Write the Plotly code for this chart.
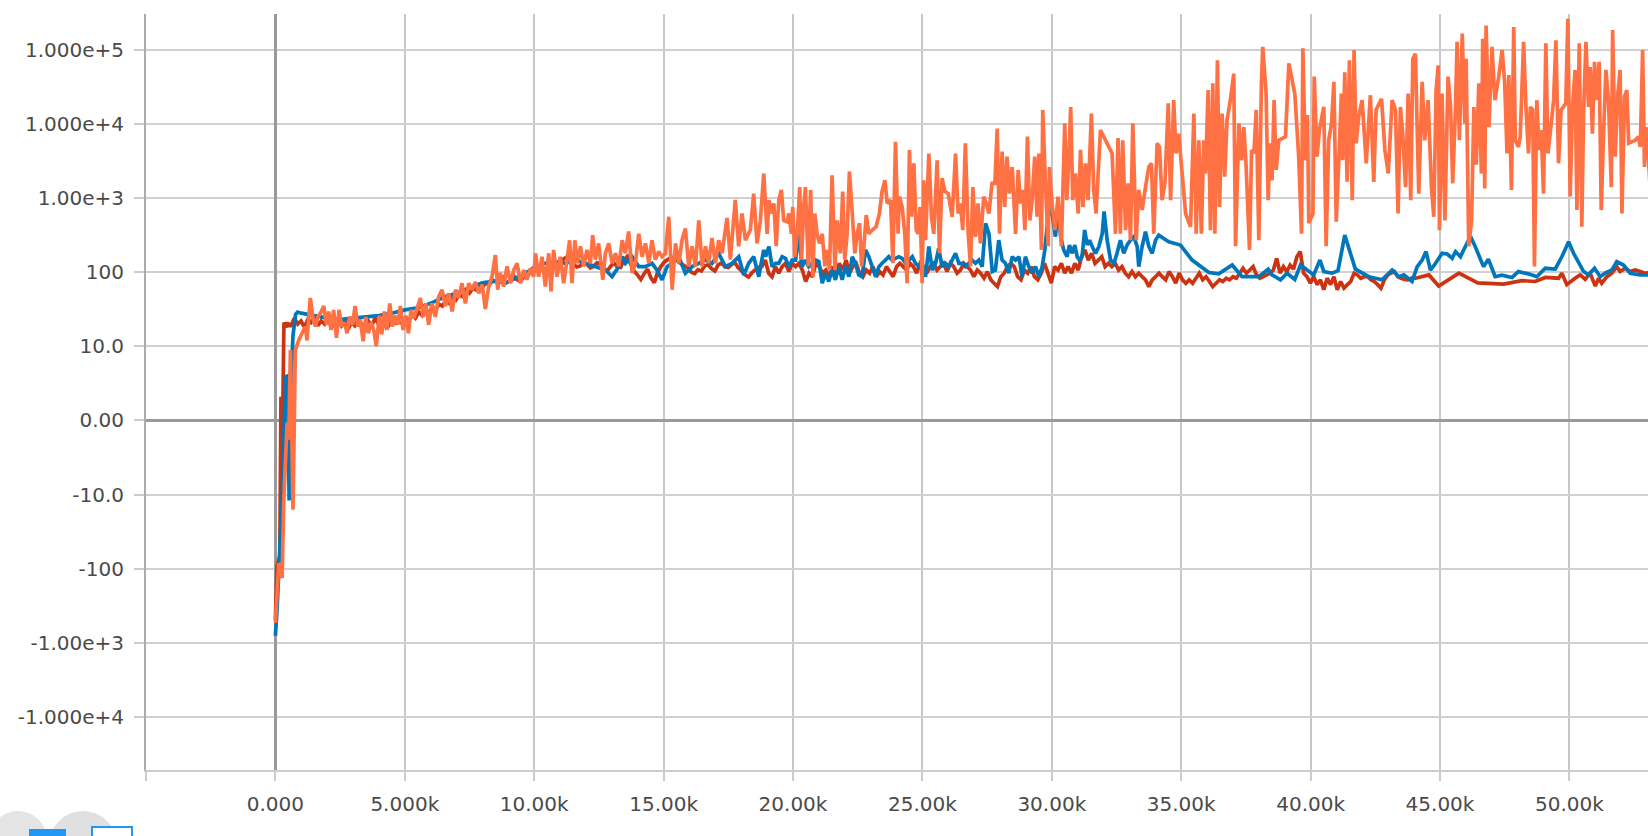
import numpy as np
import plotly.graph_objects as go

# ---------------- data (step, value) ----------------
orange_run = [
    (0, -540), (130, -84), (260, -134), (320, -13), (450, -0.4), (515, -2.6), (580, 9.5), (680, -16), (770, 9.5),
    (900, 12), (1030, 15), (1160, 18.5), (1220, 12), (1350, 45), (1460, 23), (1550, 18.5), (1640, 25), (1740, 28),
    (1870, 35), (1970, 19.5), (2060, 29.5), (2150, 16.6), (2250, 31), (2360, 13), (2460, 31), (2560, 18.5), (2670, 21),
    (2770, 15), (2870, 25), (2980, 19.5), (3080, 35), (3180, 18.5), (3280, 23), (3390, 11.7), (3490, 25), (3590, 15),
    (3700, 21), (3800, 16.6), (3900, 10), (4010, 26), (4110, 14.5), (4210, 29.5), (4310, 16.6), (4420, 38), (4520, 18.5),
    (4620, 26), (4730, 19.5), (4830, 35), (4930, 16.6), (5040, 26), (5140, 15), (5240, 31), (5350, 24), (5470, 32),
    (5600, 45), (5710, 25), (5810, 38), (5920, 19.5), (6050, 38), (6180, 25), (6310, 47), (6440, 58), (6570, 35),
    (6700, 52), (6830, 29.5), (6960, 58), (7080, 45), (7210, 71), (7340, 38), (7470, 71), (7600, 58), (7730, 74),
    (7860, 52), (7990, 68), (8110, 32), (8240, 64), (8370, 87), (8500, 170), (8590, 58), (8690, 98), (8820, 64),
    (8950, 120), (9080, 71), (9210, 107), (9340, 132), (9470, 71), (9600, 107), (9720, 79), (9850, 112), (9980, 87),
    (10050, 180), (10170, 87), (10300, 162), (10430, 64), (10560, 180), (10650, 55), (10750, 200), (10880, 87),
    (11010, 162), (11140, 71), (11270, 148), (11370, 270), (11460, 71), (11570, 270), (11660, 132), (11790, 224),
    (11910, 120), (12040, 200), (12170, 132), (12260, 316), (12360, 148), (12490, 245), (12650, 79), (12750, 180),
    (12880, 245), (13010, 132), (13140, 180), (13270, 120), (13400, 270), (13520, 180), (13650, 355), (13780, 98),
    (13910, 132), (14040, 330), (14170, 162), (14300, 245), (14430, 132), (14550, 270), (14680, 148), (14810, 190),
    (14940, 162), (15070, 180), (15200, 560), (15330, 58), (15460, 245), (15590, 132), (15710, 270), (15840, 390),
    (15970, 120), (16100, 224), (16230, 120), (16360, 500), (16490, 120), (16620, 224), (16740, 132), (16870, 290),
    (17000, 132), (17130, 270), (17260, 180), (17450, 540), (17580, 148), (17770, 950), (17900, 224), (18030, 620),
    (18160, 270), (18350, 370), (18480, 1150), (18610, 245), (18740, 500), (18870, 2150),
    (19000, 330), (19070, 940), (19190, 620), (19260, 850), (19350, 224), (19450, 940), (19550, 1290), (19640, 500),
    (19770, 480), (19840, 620), (19940, 330), (19990, 760), (20070, 162), (20160, 330), (20260, 1410), (20330, 148),
    (20420, 810), (20480, 1410), (20590, 120), (20680, 1290), (20770, 87), (20840, 620), (20930, 330), (21020, 245),
    (21130, 330), (21230, 120), (21310, 200), (21410, 107), (21510, 2040), (21620, 107), (21710, 500), (21830, 180),
    (21920, 1230), (22000, 148), (22090, 330), (22180, 2290), (22290, 620), (22390, 180), (22480, 330), (22570, 460),
    (22650, 120), (22740, 224), (22830, 590), (22930, 330), (23060, 370), (23210, 410), (23340, 620), (23440, 1230),
    (23550, 1740), (23640, 850), (23770, 940), (23860, 132), (23960, 5750), (24060, 330), (24110, 1050), (24220, 760),
    (24320, 330), (24410, 71), (24500, 4470), (24580, 560), (24670, 2950), (24760, 370), (24840, 330), (24910, 760),
    (24990, 71), (25050, 1740), (25120, 270), (25250, 4000), (25350, 560), (25440, 330), (25570, 3240), (25660, 180),
    (25760, 1860), (25870, 1230), (26000, 1150), (26150, 560), (26280, 4000), (26380, 620), (26470, 850), (26560, 370),
    (26660, 5500), (26770, 330), (26860, 120), (26950, 1410), (27050, 300), (27150, 850), (27240, 245), (27370, 1050),
    (27460, 850), (27570, 620), (27690, 1580), (27800, 1580), (27890, 8700), (27980, 330), (28080, 4260), (28180, 760),
    (28270, 3630), (28360, 1150), (28470, 2630),
    (28600, 330), (28700, 2400), (28790, 850), (28880, 1290), (28960, 370), (29060, 6760), (29150, 500), (29240, 940),
    (29340, 3630), (29430, 560), (29500, 4000), (29600, 200), (29650, 15500), (29760, 1410), (29860, 224), (29910, 2630),
    (30010, 850), (30120, 370), (30240, 1050), (30370, 224), (30500, 10200), (30580, 940), (30660, 3630), (30730, 17000),
    (30810, 940), (30910, 2150), (31020, 620), (31110, 4470), (31200, 760), (31300, 2950), (31400, 940), (31530, 13800),
    (31620, 1290), (31710, 620), (31880, 8300), (32330, 4000), (32460, 330), (32560, 6460), (32650, 330), (32740, 6030),
    (32850, 370), (32950, 1580), (33040, 270), (33130, 10200), (33260, 270), (33360, 1290), (33490, 690), (33620, 1410),
    (33750, 2630), (33850, 2950), (33940, 330), (34070, 5500), (34160, 4900), (34260, 940), (34370, 1580), (34500, 19000),
    (34590, 940), (34710, 21000), (34800, 4000), (34910, 7400), (34970, 4000), (35170, 620), (35360, 410), (35490, 13800),
    (35580, 330), (35680, 6030), (35780, 330), (35870, 6030), (35940, 2150), (36040, 28800), (36130, 370), (36220, 35500),
    (36300, 330), (36400, 72400), (36480, 760), (36580, 13800), (36680, 1950), (36770, 11200), (36900, 21000),
    (37030, 47900), (37100, 224), (37230, 10200), (37330, 3240), (37420, 9100), (37510, 2630), (37640, 200), (37720, 4470),
    (37810, 4000), (37900, 15500), (38000, 270), (38100, 35500), (38150, 110000),
    (38280, 25700), (38360, 940), (38440, 5500), (38510, 1740), (38590, 21000), (38670, 2400), (38770, 6030), (39030, 6760),
    (39160, 66000), (39390, 25700), (39540, 3630), (39650, 330), (39700, 105000), (39800, 3240), (39880, 13200), (39930, 460),
    (40090, 620), (40140, 43700), (40250, 3630), (40340, 8300), (40510, 17000), (40600, 224), (40700, 6030), (40810, 10200),
    (40900, 37200), (40990, 480), (41090, 3240), (41190, 25700), (41240, 3240), (41320, 50100), (41410, 1660), (41500, 72400),
    (41610, 940), (41680, 100000), (41760, 5500), (41860, 12600), (41990, 21000), (42150, 2950), (42310, 24500), (42440, 1660),
    (42530, 15500), (42740, 21900), (42870, 4470), (43000, 2150), (43150, 21000), (43280, 15500), (43380, 620), (43470, 17000),
    (43560, 7400), (43670, 1410), (43770, 25700), (43870, 940), (43950, 76000), (44050, 89000), (44180, 1150), (44310, 37200),
    (44410, 6030), (44540, 21000), (44670, 1410), (44760, 560), (44850, 28800), (44930, 61700), (44980, 370), (45080, 25700),
    (45190, 500), (45310, 43700), (45410, 17000), (45490, 1580), (45600, 17000), (45660, 129000), (45750, 6030), (45860, 166000),
    (45960, 10200), (46010, 76000), (46110, 224), (46220, 500), (46310, 17000), (46400, 2820), (46500, 35500), (46600, 2150),
    (46650, 141000), (46730, 1350), (46780, 214000), (46890, 9100), (47010, 110000), (47120, 21000), (47270, 43700),
    (47400, 100000), (47500, 35500), (47590, 4000), (47660, 45700), (47760, 1290), (47850, 204000),
    (47910, 6030), (48030, 4900), (48100, 6760), (48230, 129000), (48320, 17000), (48420, 4000), (48490, 17000), (48580, 15500),
    (48650, 120), (48740, 21000), (48830, 4470), (48910, 8300), (49000, 1150), (49090, 123000), (49170, 4000), (49300, 10200),
    (49390, 21000), (49480, 135000), (49580, 2950), (49680, 15500), (49770, 17000), (49860, 19000), (49940, 263000),
    (50030, 1050), (50120, 17000), (50220, 53700), (50290, 690), (50380, 123000), (50480, 410), (50550, 15500), (50640, 129000),
    (50740, 17000), (50800, 58900), (50890, 7400), (50970, 69200), (51060, 21000), (51150, 69200), (51230, 690), (51320, 7400),
    (51410, 53700), (51510, 21000), (51620, 1410), (51670, 186000), (51770, 3630), (51870, 25700), (51960, 53700), (52030, 620),
    (52130, 23400), (52220, 28800), (52290, 5500), (52540, 6030), (52670, 6760), (52740, 4900), (52830, 100000), (52900, 2630),
    (52960, 9100), (53060, 3240), (53150, 900),
]

blue_run = [
    (0, -810), (64, -355), (190, -40), (258, -12), (386, 5.9), (470, 6), (530, -12), (600, 5), (680, 14), (780, 27),
    (860, 29), (1000, 28), (1500, 26), (2000, 24), (2500, 23), (3000, 24), (3500, 25), (4000, 26), (4500, 28), (5000, 31),
    (5500, 33), (6000, 38), (6500, 46), (7000, 52), (7500, 62), (8000, 72), (8500, 76),
    (8887, 71), (9273, 83), (9660, 97), (10046, 119), (10433, 132), (10819, 139), (11205, 132), (11592, 146), (11978, 132),
    (12365, 119), (12751, 107), (13009, 87), (13266, 119), (13395, 162), (13524, 132), (13781, 162), (14039, 119),
    (14297, 119), (14554, 132), (14747, 107), (14941, 79), (15134, 119), (15327, 132), (15585, 162), (15842, 97),
    (16100, 119), (16357, 132), (16615, 146), (16873, 132), (17130, 180), (17388, 119), (17645, 132), (17903, 162),
    (18096, 92), (18289, 132), (18483, 162), (18676, 87), (18869, 200),
    (18940, 162), (19070, 222), (19190, 119), (19320, 132), (19450, 132), (19580, 162), (19710, 154), (19840, 119),
    (19970, 146), (20100, 146), (20220, 333), (20350, 119), (20480, 146), (20610, 119), (20740, 132), (20870, 146),
    (21000, 139), (21130, 71), (21250, 97), (21380, 75), (21510, 107), (21640, 79), (21770, 119), (21900, 79), (22030, 119),
    (22160, 87), (22290, 162), (22410, 132), (22540, 92), (22670, 87), (22800, 200), (22930, 162), (23060, 119), (23190, 87),
    (23320, 119), (23440, 132), (23570, 146), (23700, 162), (23830, 146), (23960, 154), (24090, 162), (24220, 154),
    (24350, 132), (24480, 146), (24610, 162), (24730, 132), (24860, 119), (24990, 132), (25120, 87), (25250, 222),
    (25380, 107), (25510, 132), (25630, 210), (25760, 119), (25890, 132), (26020, 119), (26150, 146), (26280, 180),
    (26410, 132), (26540, 132), (26660, 119), (26790, 132), (26920, 146), (27050, 132), (27180, 146), (27310, 119),
    (27440, 457), (27570, 333), (27700, 102), (27820, 107), (27950, 271), (28080, 146), (28210, 132),
    (28340, 97), (28470, 162), (28600, 146), (28730, 162), (28850, 87), (28980, 162), (29110, 119), (29240, 97), (29370, 119),
    (29500, 87), (29630, 119), (29730, 200), (29820, 410), (29910, 760), (30010, 620), (30140, 302), (30250, 760),
    (30340, 302), (30460, 200), (30590, 162), (30680, 233), (30790, 180), (30890, 233), (30980, 162), (31070, 146),
    (31170, 162), (31270, 372), (31370, 233), (31460, 271), (31560, 222), (31690, 180), (31820, 222), (31950, 333),
    (32020, 660), (32140, 271), (32270, 146), (32400, 132), (32520, 180), (32650, 271), (32780, 180), (32910, 233),
    (33040, 271), (33170, 302), (33300, 222), (33360, 119), (33490, 222), (33620, 352), (33750, 222), (33880, 180),
    (34010, 271), (34130, 317), (34520, 258), (34970, 233), (35420, 146), (36070, 99), (36450, 95), (36970, 125),
    (37350, 87), (38000, 87),
    (38360, 110), (38510, 92), (38840, 79), (39090, 97), (39390, 80), (39610, 125), (40120, 92), (40360, 146), (40510, 102),
    (40830, 97), (41060, 105), (41320, 317), (41730, 110), (42250, 87), (42760, 79), (43150, 107), (43410, 87), (43600, 92),
    (43920, 75), (44120, 119), (44310, 146), (44460, 190), (44630, 107), (44830, 132), (45080, 180), (45280, 176),
    (45470, 154), (45600, 190), (45790, 162), (45980, 222), (46180, 302),
    (46360, 222), (46680, 119), (46870, 150), (47130, 87), (47390, 91), (47780, 85), (48030, 102), (48420, 95), (48740, 87),
    (49070, 113), (49450, 110), (49710, 162), (49970, 258), (50160, 180), (50550, 102), (50740, 92), (50970, 113),
    (51190, 87), (51380, 97), (51640, 107), (51830, 139), (52090, 125), (52350, 97), (52740, 92), (53060, 92), (53200, 90),
]

red_start = [(0, -490), (60, -93), (170, -68), (215, 3.2), (260, -5), (330, 21), (400, 18), (470, 21), (530, 19)]

# red: logged every 130 steps from step 600 to 43890
red_dense_steps = list(range(600, 44020, 130))
red_dense_values = [
    19, 24, 20, 22, 18, 23, 21, 25, 19, 22, 20, 24, 18, 21, 23, 19, 22, 17, 21, 19,
    23, 20, 18, 22, 19, 24, 20, 17, 22, 19, 23, 21, 25, 20, 24, 22, 27, 24, 29, 26,
    31, 28, 34, 31, 37, 35, 41, 38, 45, 42, 50, 47, 55, 52, 60, 58, 66, 63, 72, 68,
    78, 74, 85, 80,
    95, 88, 92, 80, 76, 84, 88, 96, 104, 110, 121, 104, 112, 126, 134, 118, 128, 150, 160, 138,
    128, 118, 122, 136, 128, 114, 120, 134, 128, 112, 104, 120, 134, 118, 116, 148, 164, 128, 104, 92,
    80, 96, 110, 84, 72, 100, 120, 138, 148, 158, 160, 140, 130, 122, 114, 100, 96, 108, 104, 122,
    126, 112, 104, 126, 134, 118, 116, 128, 134, 114, 104, 92, 86, 98, 108, 116, 120,
    146, 97, 87, 119, 97, 119, 132, 102, 132, 119, 132, 107, 75, 97, 87, 132, 119, 97, 107, 87,
    119, 97, 132, 107, 146, 97, 119, 132, 97, 87, 107, 97, 119, 87, 102, 92, 119, 102, 87, 119,
    132, 119, 107, 132, 119, 97, 132, 119, 97, 119, 132, 107, 119, 132, 102, 132, 119, 97, 107, 132,
    119, 107, 87, 107, 97, 83, 102, 79, 71, 64, 87, 97, 119, 132, 119,
    87, 79, 107, 97, 119, 87, 79, 97, 132, 97, 71, 119, 107, 132, 97, 119, 97, 132, 107, 162,
    200, 146, 180, 132, 146, 162, 119, 132, 119, 132, 107, 119, 97, 87, 102, 87, 97, 87, 79, 64,
    79, 87, 97, 87, 79, 102, 87, 71, 97, 79, 71, 79, 71, 83, 97, 79, 87, 75, 64, 71,
    79, 75, 83, 79, 87, 83, 97, 113, 97, 107, 119, 92, 83, 87, 92,
    97, 107, 154, 97, 119, 102, 125, 110, 162, 190, 97, 87, 71, 87, 68, 79, 58, 83, 68, 87,
    58, 75, 61, 68, 75, 97, 92, 83, 87, 87, 79, 75, 68, 61, 79, 92, 97, 102, 87, 83,
    80, 79, 83,
]
red_tail = [
    (44050, 83), (44570, 92), (44950, 65), (45730, 97), (46460, 72), (47460, 69), (48160, 77), (48680, 75), (49070, 85),
    (49580, 83), (49710, 97), (49900, 68), (50220, 83), (50420, 92), (50610, 80), (50800, 97), (51000, 65), (51130, 83),
    (51250, 71), (51450, 87), (51640, 97), (51830, 119), (51960, 102), (52160, 113), (52350, 102), (52540, 107),
    (52740, 102), (52930, 97), (53060, 99), (53200, 98),
]

x_tick_steps = [-5000, 0, 5000, 10000, 15000, 20000, 25000, 30000, 35000, 40000, 45000, 50000]
x_tick_labels = ["", "0.000", "5.000k", "10.00k", "15.00k", "20.00k", "25.00k", "30.00k", "35.00k", "40.00k",
                 "45.00k", "50.00k"]
y_tick_values = [-1e4, -1e3, -100, -10, 0, 10, 100, 1e3, 1e4, 1e5]
y_tick_labels = ["-1.000e+4", "-1.00e+3", "-100", "-10.0", "0.00", "10.0", "100", "1.00e+3", "1.000e+4", "1.000e+5"]

assert len(red_dense_steps) == len(red_dense_values)


# symmetric log scale (linear inside [-10, 10], log10 outside), as in the source chart
def symlog(v):
    v = np.asarray(v, dtype=float)
    a = np.abs(v)
    return np.where(a <= 10, v / 10.0, np.sign(v) * np.log10(np.maximum(a, 1e-12)))


def unzip(pairs):
    s, v = zip(*pairs)
    return list(s), list(v)


red_steps = [p[0] for p in red_start] + red_dense_steps + [p[0] for p in red_tail]
red_values = [p[1] for p in red_start] + red_dense_values + [p[1] for p in red_tail]
blue_steps, blue_values = unzip(blue_run)
orange_steps, orange_values = unzip(orange_run)

ORANGE = "#ff7043"
BLUE = "#0077bb"
RED = "#cc3311"
LW = 3.7

fig = go.Figure()
fig.add_trace(go.Scatter(x=red_steps, y=symlog(red_values), mode="lines",
                         line=dict(color=RED, width=LW, simplify=False), showlegend=False))
fig.add_trace(go.Scatter(x=blue_steps, y=symlog(blue_values), mode="lines",
                         line=dict(color=BLUE, width=LW, simplify=False), showlegend=False))
fig.add_trace(go.Scatter(x=orange_steps, y=symlog(orange_values), mode="lines",
                         line=dict(color=ORANGE, width=LW, simplify=False), showlegend=False))

W, H = 1648, 836
ML, MR, MT, MB = 146, 0, 14, 66


def px(xpix, ypix):
    return (xpix - ML) / (W - ML - MR), (H - MB - ypix) / (H - MT - MB)


shapes = []
for (cx, cy, r, col) in [(18, 840, 29, "#e4e4e4"), (83, 845, 34, "#e0e0e0")]:
    x0, y0 = px(cx - r, cy + r)
    x1, y1 = px(cx + r, cy - r)
    shapes.append(dict(type="circle", xref="paper", yref="paper", x0=x0, x1=x1, y0=y0, y1=y1,
                       fillcolor=col, line=dict(width=0), layer="above"))
x0, y0 = px(29, 850)
x1, y1 = px(66, 829)
shapes.append(dict(type="rect", xref="paper", yref="paper", x0=x0, x1=x1, y0=y0, y1=y1,
                   fillcolor="#2196f3", line=dict(width=0), layer="above"))
x0, y0 = px(92, 850)
x1, y1 = px(132, 827)
shapes.append(dict(type="rect", xref="paper", yref="paper", x0=x0, x1=x1, y0=y0, y1=y1,
                   fillcolor="white", line=dict(width=2, color="#2196f3"), layer="above"))

font = dict(family="DejaVu Sans, Liberation Sans, sans-serif", size=20, color="#4a4a4a")

fig.update_layout(
    width=W, height=H,
    margin=dict(l=ML, r=MR, t=MT, b=MB, pad=0),
    paper_bgcolor="white", plot_bgcolor="white",
    font=font,
    shapes=shapes,
    xaxis=dict(
        range=[-5000, -5000 + (W - ML - MR) / 129.4 * 5000],
        tickmode="array", tickvals=x_tick_steps, ticktext=x_tick_labels,
        showgrid=True, gridcolor="#c8c8c8", gridwidth=1.5,
        zeroline=True, zerolinecolor="#9a9a9a", zerolinewidth=3,
        showline=True, linecolor="#cccccc", linewidth=2,
        ticks="outside", ticklen=9, tickwidth=2, tickcolor="#cccccc",
        ticklabelstandoff=6, tickfont=font,
    ),
    yaxis=dict(
        range=[-4.718, 5.485],
        tickmode="array", tickvals=list(symlog(y_tick_values)), ticktext=y_tick_labels,
        showgrid=True, gridcolor="#d0d0d0", gridwidth=1.5,
        zeroline=True, zerolinecolor="#9a9a9a", zerolinewidth=3,
        showline=True, linecolor="#aaaaaa", linewidth=2,
        ticks="outside", ticklen=10, tickwidth=2, tickcolor="#cccccc",
        ticklabelstandoff=6, tickfont=font,
    ),
)

fig.write_html("out.html", config={"displayModeBar": False},
               post_script="document.body.style.margin='0';document.body.style.overflow='hidden';")
